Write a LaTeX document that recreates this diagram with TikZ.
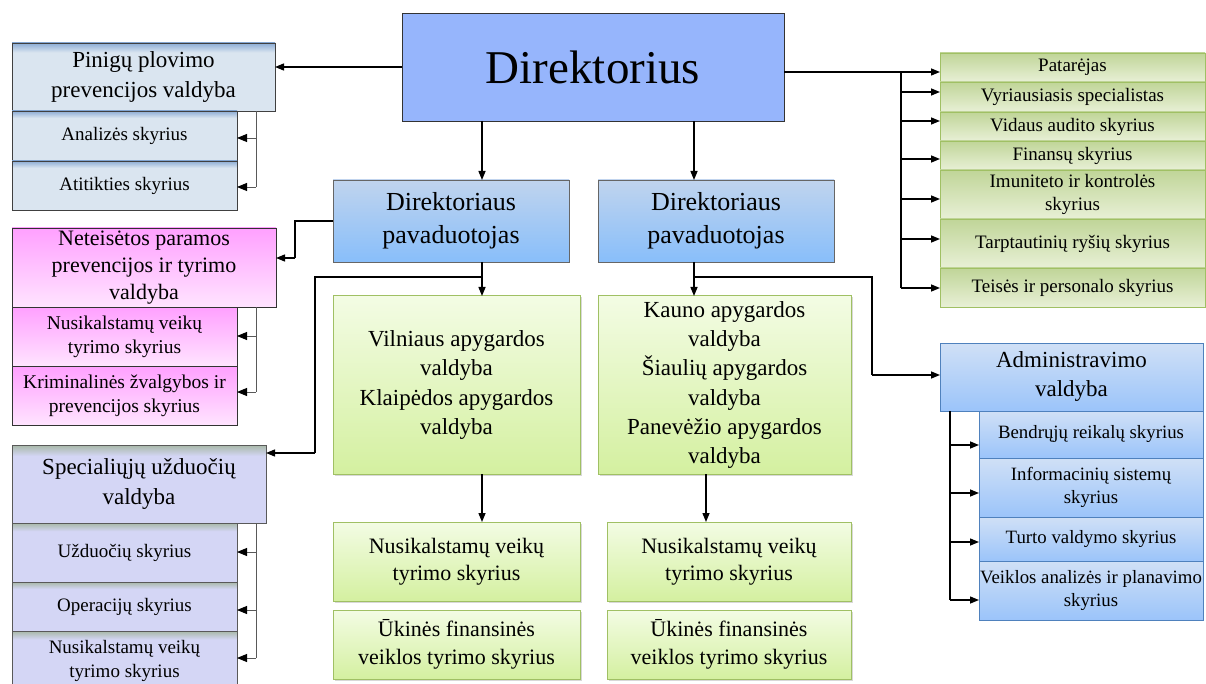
\documentclass[tikz,border=0pt]{standalone}
\usepackage{fontspec}
\setmainfont{Liberation Serif}
\usetikzlibrary{arrows.meta,shadows}
\newcommand\myfs[2]{\fontsize{#1}{#2}\selectfont}
\definecolor{dirblue}{RGB}{150,181,252}
\definecolor{depTop}{RGB}{192,212,238}
\definecolor{depBot}{RGB}{136,190,250}
\definecolor{pinL}{RGB}{218,229,240}
\definecolor{pinD}{RGB}{140,172,212}
\definecolor{pkTop}{RGB}{255,160,255}
\definecolor{pkBot}{RGB}{255,228,255}
\definecolor{lavL}{RGB}{212,214,245}
\definecolor{lavD}{RGB}{168,184,168}
\definecolor{grTop}{RGB}{192,213,152}
\definecolor{grBot}{RGB}{232,240,214}
\definecolor{grBorder}{RGB}{160,192,100}
\definecolor{cgTop}{RGB}{243,252,228}
\definecolor{cgBot}{RGB}{212,240,160}
\definecolor{admTop}{RGB}{208,224,246}
\definecolor{admBot}{RGB}{155,196,250}
\definecolor{admBorder}{RGB}{79,129,189}
\pgfdeclareverticalshading{pinsh}{100bp}{color(0bp)=(pinL); color(25bp)=(pinL); color(68bp)=(pinL); color(75bp)=(pinD); color(100bp)=(pinD)}
\pgfdeclareverticalshading{lavsh}{100bp}{color(0bp)=(lavL); color(25bp)=(lavL); color(68bp)=(lavL); color(75bp)=(lavD); color(100bp)=(lavD)}
\tikzset{
  box/.style={draw, anchor=north west, inner sep=0pt, outer sep=0pt, align=center, line width=0.8pt, text=black},
  dirbox/.style={box, fill=dirblue, draw=black!80, minimum width=382pt, minimum height=108pt, font=\myfs{47}{56}},
  depbox/.style={box, top color=depTop, bottom color=depBot, draw=black!60, minimum width=236pt, minimum height=82pt, font=\myfs{26}{33}},
  pinH/.style={box, shading=pinsh, draw=black!75, minimum width=263pt, minimum height=68pt, font=\myfs{23}{30}},
  pinS/.style={box, shading=pinsh, draw=black!75, minimum width=225pt, font=\myfs{19}{23}},
  pkH/.style={box, top color=pkTop, bottom color=pkBot, draw=black!80, minimum width=264pt, minimum height=79pt, font=\myfs{22}{27}},
  pkS/.style={box, top color=pkTop, bottom color=pkBot, draw=black!80, minimum width=225pt, minimum height=59pt, font=\myfs{19.5}{24}},
  lavH/.style={box, shading=lavsh, draw=black!65, minimum width=254pt, minimum height=78pt, font=\myfs{23}{30}},
  lavS/.style={box, shading=lavsh, draw=black!65, minimum width=225pt, font=\myfs{19}{24}},
  cg/.style={box, top color=cgTop, bottom color=cgBot, draw=grBorder, line width=1pt, drop shadow={shadow xshift=1.5pt, shadow yshift=-1.5pt, opacity=0.3}},
  vilbox/.style={cg, minimum height=178pt, font=\myfs{23}{29.3}},
  subg/.style={cg, font=\myfs{22}{27.5}},
  rg/.style={box, top color=grTop, bottom color=grBot, draw=grBorder, minimum width=265pt, font=\myfs{19}{23}},
  admH/.style={box, top color=admTop, bottom color=admBot, draw=admBorder, minimum width=263pt, minimum height=68pt, font=\myfs{23}{29}},
  admS/.style={box, top color=admTop, bottom color=admBot, draw=admBorder, minimum width=224pt, font=\myfs{18.8}{23}},
  ln/.style={line width=1.4pt, black},
  arr/.style={ln, -{Triangle[length=9pt,width=7pt]}},
  sln/.style={line width=0.9pt, black!65},
  sarr/.style={sln, -{Triangle[length=10pt,width=8pt,black]}},
}
\begin{document}
\begin{tikzpicture}[x=1pt,y=-1pt]
\useasboundingbox (0,0) rectangle (1206,684);
\clip (0,0) rectangle (1206,684);
\fill[white] (0,0) rectangle (1206,684);

% ---------- centre ----------
\node[dirbox] (dir) at (402,13) {Direktorius};
\node[depbox] (dep1) at (333,180) {Direktoriaus\\pavaduotojas};
\node[depbox] (dep2) at (598,180) {Direktoriaus\\pavaduotojas};
\node[vilbox, minimum width=247pt] (vil) at (333,296) {Vilniaus apygardos\\valdyba\\Klaipėdos apygardos\\valdyba};
\node[vilbox, minimum width=253pt] (kau) at (598,296) {Kauno apygardos\\valdyba\\Šiaulių apygardos\\valdyba\\Panevėžio apygardos\\valdyba};
\node[subg, minimum width=247pt, minimum height=79pt] (nv1) at (333,522) {Nusikalstamų veikų\\tyrimo skyrius};
\node[subg, minimum width=247pt, minimum height=69pt] (uk1) at (333,610) {Ūkinės finansinės\\veiklos tyrimo skyrius};
\node[subg, minimum width=244pt, minimum height=79pt] (nv2) at (607,522) {Nusikalstamų veikų\\tyrimo skyrius};
\node[subg, minimum width=244pt, minimum height=69pt] (uk2) at (607,610) {Ūkinės finansinės\\veiklos tyrimo skyrius};

% ---------- left column ----------
\node[pinH] (pin) at (12,43) {\rule{0pt}{8pt}Pinigų plovimo\\prevencijos valdyba};
\node[pinS, minimum height=50pt] (pin1) at (12,111) {Analizės skyrius};
\node[pinS, minimum height=49pt] (pin2) at (12,161) {Atitikties skyrius};

\node[pkH] (pk) at (12,228) {Neteisėtos paramos\\prevencijos ir tyrimo\\valdyba};
\node[pkS] (pk1) at (12,307) {Nusikalstamų veikų\\tyrimo skyrius};
\node[pkS] (pk2) at (12,366) {Kriminalinės žvalgybos ir\\prevencijos skyrius};

\node[lavH] (lav) at (12,445) {Specialiųjų užduočių\\valdyba};
\node[lavS, minimum height=59pt] (lav1) at (12,523) {Užduočių skyrius};
\node[lavS, minimum height=49pt] (lav2) at (12,582) {Operacijų skyrius};
\node[lavS, minimum height=60pt] (lav3) at (12,631) {Nusikalstamų veikų\\tyrimo skyrius};

% ---------- right column ----------
\node[rg, minimum height=29pt] (r1) at (940,53) {Patarėjas};
\node[rg, minimum height=30pt] (r2) at (940,82) {Vyriausiasis specialistas};
\node[rg, minimum height=29pt] (r3) at (940,112) {Vidaus audito skyrius};
\node[rg, minimum height=29pt] (r4) at (940,141) {Finansų skyrius};
\node[rg, minimum height=49pt] (r5) at (940,170) {Imuniteto ir kontrolės\\skyrius};
\node[rg, minimum height=49pt] (r6) at (940,219) {Tarptautinių ryšių skyrius};
\node[rg, minimum height=39pt] (r7) at (940,268) {Teisės ir personalo skyrius};

\node[admH] (adm) at (940,343) {Administravimo\\valdyba};
\node[admS, minimum height=47pt] (a1) at (979,411) {Bendrųjų reikalų skyrius};
\node[admS, minimum height=59pt] (a2) at (979,458) {Informacinių sistemų\\skyrius};
\node[admS, minimum height=44pt] (a3) at (979,517) {Turto valdymo skyrius};
\node[admS, minimum height=59pt] (a4) at (979,561) {Veiklos analizės ir planavimo\\skyrius};

% ---------- connectors: centre ----------
\coordinate (d1) at (482,121);
\coordinate (d2) at (694,121);
\draw[arr] (d1) -- (d1 |- dep1.north);
\draw[arr] (d2) -- (d2 |- dep2.north);
\draw[arr] (d1 |- dep1.south) -- (d1 |- vil.north);
\draw[arr] (d2 |- dep2.south) -- (d2 |- kau.north);
\draw[arr] (d1 |- vil.south) -- (d1 |- nv1.north);
\coordinate (d3) at (706,474);
\draw[arr] (d3) -- (d3 |- nv2.north);

% director -> Pinigu
\draw[arr] (dir.west) -- (dir.west -| pin.east);

% left deputy -> Neteisetos
\coordinate (k1) at (295,258);
\draw[ln] (dep1.west) -| (k1);
\draw[arr] (k1) -- (k1 -| pk.east);

% left deputy -> Specialiuju
\coordinate (j1) at (482,277);
\coordinate (j2) at (315,453);
\draw[ln] (j1) -| (j2);
\draw[arr] (j2) -- (j2 -| lav.east);

% right deputy -> Administravimo
\coordinate (j3) at (694,277);
\coordinate (j4) at (872,375);
\draw[ln] (j3) -| (j4);
\draw[arr] (j4) -- (j4 -| adm.west);

% director -> right column
\coordinate (e1) at (784,72);
\draw[arr] (e1) -- (e1 -| r1.west);
\coordinate (b0) at (901,72);
\coordinate (b2) at (901,92);
\coordinate (b3) at (901,121);
\coordinate (b4) at (901,159);
\coordinate (b5) at (901,199);
\coordinate (b6) at (901,239);
\coordinate (b7) at (901,288);
\draw[ln] (b0) -- (b7);
\draw[arr] (b2) -- (b2 -| r2.west);
\draw[arr] (b3) -- (b3 -| r3.west);
\draw[arr] (b4) -- (b4 -| r4.west);
\draw[arr] (b5) -- (b5 -| r5.west);
\draw[arr] (b6) -- (b6 -| r6.west);
\draw[arr] (b7) -- (b7 -| r7.west);

% administravimo subs
\coordinate (ab0) at (950,411);
\coordinate (ab1) at (950,445);
\coordinate (ab2) at (950,493);
\coordinate (ab3) at (950,542);
\coordinate (ab4) at (950,600);
\draw[ln] (ab0) -- (ab4);
\draw[arr] (ab1) -- (ab1 -| a1.west);
\draw[arr] (ab2) -- (ab2 -| a2.west);
\draw[arr] (ab3) -- (ab3 -| a3.west);
\draw[arr] (ab4) -- (ab4 -| a4.west);

% left column subs
\coordinate (p0) at (256,111);
\coordinate (p1) at (256,138);
\coordinate (p2) at (256,187);
\draw[sln] (p0) -- (p2);
\draw[sarr] (p1) -- (p1 -| pin1.east);
\draw[sarr] (p2) -- (p2 -| pin2.east);

\coordinate (q0) at (256,307);
\coordinate (q1) at (256,336);
\coordinate (q2) at (256,392);
\draw[sln] (q0) -- (q2);
\draw[sarr] (q1) -- (q1 -| pk1.east);
\draw[sarr] (q2) -- (q2 -| pk2.east);

\coordinate (s0) at (256,523);
\coordinate (s1) at (256,552);
\coordinate (s2) at (256,610);
\coordinate (s3) at (256,658);
\draw[sln] (s0) -- (s3);
\draw[sarr] (s1) -- (s1 -| lav1.east);
\draw[sarr] (s2) -- (s2 -| lav2.east);
\draw[sarr] (s3) -- (s3 -| lav3.east);
\end{tikzpicture}
\end{document}
